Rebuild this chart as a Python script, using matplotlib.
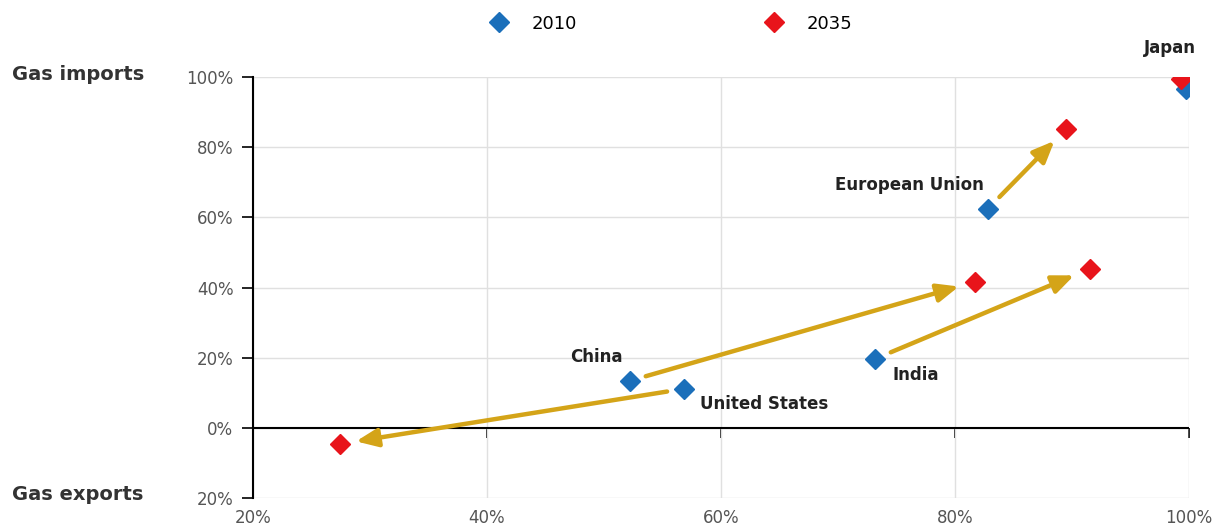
import numpy as np
import matplotlib.pyplot as plt
from matplotlib.ticker import FuncFormatter

# data (share of gas, % of demand): x and y for 2010 and 2035
paises = ['Japan', 'European Union', 'China', 'United States', 'India']
x_2010 = [99.7, 82.8, 52.2, 56.8, 73.2]
y_2010 = [96.6, 62.4, 13.4, 11.1, 19.7]
x_2035 = [99.3, 89.5, 81.7, 27.4, 91.5]
y_2035 = [99.4, 85.2, 41.6, -4.6, 45.3]

azul = '#1b6fba'
vermelho = '#e8141b'
dourado = '#d4a418'

fig = plt.figure(figsize=(12.19, 5.31), dpi=100)
ax = fig.add_axes([0.2075, 0.0621, 0.7679, 0.7929])

ax.set_xlim(20, 100)
ax.set_ylim(-20, 100)

# grid
ax.grid(True, color='#e0e0e0', linestyle='-', linewidth=1)
ax.set_axisbelow(True)

# linha do zero
ax.axhline(0, color='black', lw=1.5, zorder=2)

# setas 2010 -> 2035 (menos o Japao)
for i in range(1, len(paises)):
    ax.annotate('', xy=(x_2035[i], y_2035[i]), xytext=(x_2010[i], y_2010[i]),
                arrowprops=dict(arrowstyle='-|>,head_length=1.3,head_width=0.55',
                                color=dourado, lw=3.2, shrinkA=12, shrinkB=12),
                zorder=3)

ax.plot(x_2010, y_2010, 'D', color=azul, markersize=10, zorder=4, label='2010')
ax.plot(x_2035, y_2035, 'D', color=vermelho, markersize=10, zorder=5, label='2035')

# rotulos dos paises
fs = 12
cor_txt = '#222222'
ax.annotate('Japan', (x_2035[0], y_2035[0]), xytext=(-8, 16), textcoords='offset points',
            ha='center', va='bottom', fontsize=fs, fontweight='bold', color=cor_txt)
ax.annotate('European Union', (x_2010[1], y_2010[1]), xytext=(-3, 17), textcoords='offset points',
            ha='right', va='center', fontsize=fs, fontweight='bold', color=cor_txt)
ax.annotate('China', (x_2010[2], y_2010[2]), xytext=(-5, 17), textcoords='offset points',
            ha='right', va='center', fontsize=fs, fontweight='bold', color=cor_txt)
ax.annotate('United States', (x_2010[3], y_2010[3]), xytext=(12, -11), textcoords='offset points',
            ha='left', va='center', fontsize=fs, fontweight='bold', color=cor_txt)
ax.annotate('India', (x_2010[4], y_2010[4]), xytext=(12, -12), textcoords='offset points',
            ha='left', va='center', fontsize=fs, fontweight='bold', color=cor_txt)

# eixos
pct = FuncFormatter(lambda v, p: f'{abs(v):.0f}%')
ax.set_xticks(np.arange(20, 101, 20))
ax.set_yticks(np.arange(-20, 101, 20))
ax.xaxis.set_major_formatter(pct)
ax.yaxis.set_major_formatter(pct)
ax.tick_params(axis='x', length=0, labelsize=12, labelcolor='#555555', pad=8)
ax.tick_params(axis='y', length=8, width=1.2, labelsize=12, labelcolor='#555555', pad=6)

for s in ['top', 'right', 'bottom']:
    ax.spines[s].set_visible(False)
ax.spines['left'].set_linewidth(1.5)

# marcas na linha do zero
sec = ax.secondary_xaxis(20 / 120)
sec.set_xticks(np.arange(20, 101, 20))
sec.tick_params(axis='x', length=7, width=1.2, labelbottom=False, direction='out')
sec.spines['bottom'].set_visible(False)

fig.text(12 / 1219, 1 - 75 / 531, 'Gas imports', fontsize=14, fontweight='bold',
         color='#333333', va='center', ha='left')
fig.text(12 / 1219, 1 - 495 / 531, 'Gas exports', fontsize=14, fontweight='bold',
         color='#333333', va='center', ha='left')

ax.legend(loc='center', bbox_to_anchor=(0.442, 1.127), ncol=2, frameon=False,
          fontsize=13, columnspacing=9.9, handletextpad=0.8, numpoints=1)

fig.savefig('out.png', dpi=100)
